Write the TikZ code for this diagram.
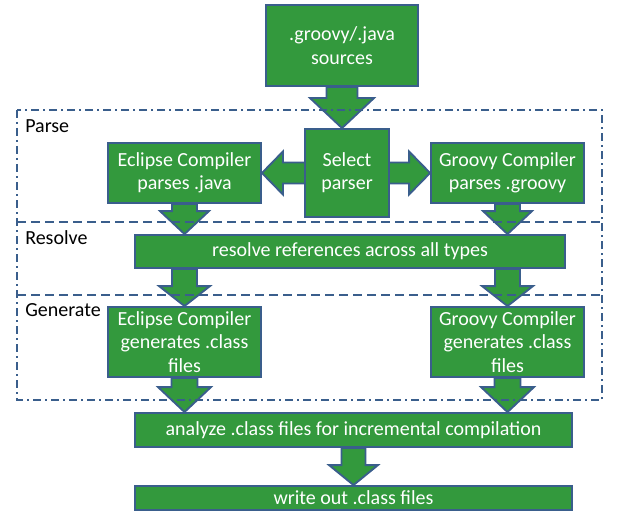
\documentclass[tikz,border=0pt]{standalone}
\usepackage{fontspec}
\setmainfont{Carlito}
\usetikzlibrary{calc,backgrounds}

\definecolor{boxgreen}{RGB}{51,153,61}
\definecolor{boxblue}{RGB}{58,94,140}

\tikzset{
  stagebox/.style={draw=boxblue, fill=boxgreen, line width=1.4pt, text=white, inner sep=0pt,
    align=center, font=\fontsize{15}{17.5}\selectfont},
  blockarrow/.style={draw=boxblue, fill=boxgreen, line width=1.4pt, line join=miter},
  stagelabel/.style={anchor=base west, inner sep=0pt, font=\fontsize{15}{18}\selectfont},
  phaseframe/.style={draw=boxblue, line width=1.1pt, dash pattern=on 6pt off 3pt on 1.5pt off 3pt},
  phasesplit/.style={draw=boxblue, line width=1.1pt, dash pattern=on 7pt off 3.5pt},
}

% down block arrow: start, tip, shaft half width, head half width, head length
\newcommand{\blockdown}[5]{%
  \draw[blockarrow] ($(#1)+(-#3,0)$) -- ($(#2)+(-#3,-#5)$) -- ($(#2)+(-#4,-#5)$) -- (#2)
    -- ($(#2)+(#4,-#5)$) -- ($(#2)+(#3,-#5)$) -- ($(#1)+(#3,0)$) -- cycle;}

\begin{document}
\begin{tikzpicture}[x=0.75pt,y=0.75pt,yscale=-1,xscale=1]
\useasboundingbox (0,0) rectangle (624,524);

% boxes
\node[stagebox, minimum width=114pt, minimum height=60.75pt] (src) at (342,45.5) {.groovy/.java\\sources};
\node[stagebox, minimum width=63pt, minimum height=66pt] (sel) at (347,173) {Select\\parser};
\node[stagebox, minimum width=114.75pt, minimum height=45pt] (ep) at (184.5,173) {Eclipse Compiler\\parses .java};
\node[stagebox, minimum width=114.75pt, minimum height=45pt] (gp) at (507.5,173) {Groovy Compiler\\parses .groovy};
\node[stagebox, minimum width=322.5pt, minimum height=24.75pt] (res) at (350,251.5) {resolve references across all types};
\node[stagebox, minimum width=114.75pt, minimum height=52.5pt] (eg) at (184.5,342) {Eclipse Compiler\\generates .class\\files};
\node[stagebox, minimum width=114.75pt, minimum height=52.5pt] (gg) at (507.5,342) {Groovy Compiler\\generates .class\\files};
\node[stagebox, minimum width=327.75pt, minimum height=25.5pt] (ana) at (353.5,430) {analyze .class files for incremental compilation};
\node[stagebox, minimum width=327.75pt, minimum height=18pt] (out) at (353.5,498) {write out .class files};

% block arrows
\begin{scope}[on background layer]
  \blockdown{src.south}{src.south |- sel.north}{15.5}{32}{30}
  \coordinate (selL) at (ep.east |- sel.center);
  \coordinate (selR) at (gp.west |- sel.center);
  \draw[blockarrow] (selL) -- +(21,-21.5) -- +(21,-10.5) -- ($(selR)+(-21,-10.5)$) -- ($(selR)+(-21,-21.5)$)
    -- (selR) -- ($(selR)+(-21,21.5)$) -- ($(selR)+(-21,10.5)$) -- ($(selL)+(21,10.5)$) -- ($(selL)+(21,21.5)$) -- cycle;
  \blockdown{ep.south}{ep.south |- res.north}{12.5}{24.5}{23}
  \blockdown{gp.south}{gp.south |- res.north}{12.5}{24.5}{23}
  \blockdown{eg.north |- res.south}{eg.north}{12.5}{25.5}{20}
  \blockdown{gg.north |- res.south}{gg.north}{12.5}{25.5}{20}
  \blockdown{eg.south}{eg.south |- ana.north}{13}{26.5}{25}
  \blockdown{gg.south}{gg.south |- ana.north}{13}{26.5}{25}
  \blockdown{ana.south}{ana.south |- out.north}{12}{24.5}{20}
\end{scope}

% phases
\draw[phaseframe] (17,110) rectangle (602,400);
\draw[phasesplit] (17,222) -- (602,222);
\draw[phasesplit] (17,295) -- (602,295);
\node[stagelabel] (lparse) at (25,132.5) {Parse};
\node[stagelabel] (lresolve) at (25,244.5) {Resolve};
\node[stagelabel] (lgen) at (25,316) {Generate};

\end{tikzpicture}
\end{document}
